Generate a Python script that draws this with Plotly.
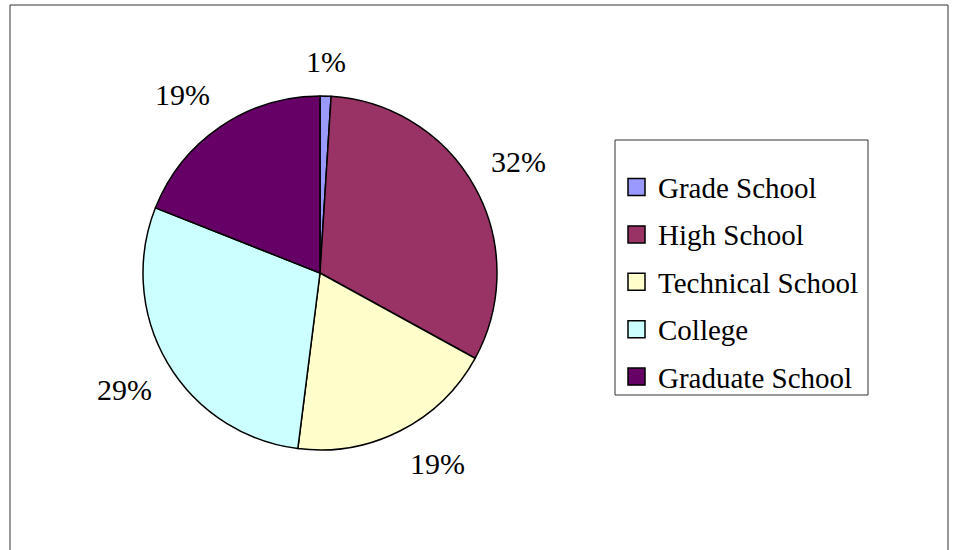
import math
import plotly.graph_objects as go

categories = ["Grade School", "High School", "Technical School", "College", "Graduate School"]
values = [1, 32, 19, 29, 19]
colors = ["#9999FF", "#993366", "#FFFFCC", "#CCFFFF", "#660066"]

W, H = 956, 550
cx, cy, r = 320, 273, 177
FONT = "Liberation Serif"


def px_x(x):
    return x / W


def px_y(y):
    return 1 - y / H


fig = go.Figure()
fig.add_trace(go.Pie(
    labels=categories, values=values, sort=False, direction="clockwise", rotation=0,
    marker=dict(colors=colors, line=dict(color="black", width=1.5)),
    textinfo="none", hoverinfo="label+percent", showlegend=False,
    domain=dict(x=[px_x(cx - r), px_x(cx + r)], y=[px_y(cy + r), px_y(cy - r)]),
))

# percentage labels placed outside the slices, computed from the data
total = sum(values)
cum = 0
annotations = []
gap = 16
for v in values:
    mid = (cum + v / 2) / total * 2 * math.pi
    cum += v
    s, c = math.sin(mid), math.cos(mid)
    lx = cx + (r + gap) * s
    ly = cy - (r + gap) * c
    xa = "left" if s > 0.3 else ("right" if s < -0.3 else "center")
    ya = "bottom" if c > 0.3 else ("top" if c < -0.3 else "middle")
    annotations.append(dict(
        x=px_x(lx), y=px_y(ly), xref="paper", yref="paper",
        text=f"{round(v / total * 100)}%", showarrow=False,
        xanchor=xa, yanchor=ya, font=dict(family=FONT, size=30, color="black"),
    ))

# outer frame and legend box (Excel style)
shapes = [
    dict(type="rect", xref="paper", yref="paper",
         x0=px_x(10), x1=px_x(948), y0=-0.05, y1=px_y(5),
         line=dict(color="#333333", width=1)),
    dict(type="rect", xref="paper", yref="paper",
         x0=px_x(615), x1=px_x(868), y0=px_y(395), y1=px_y(140),
         line=dict(color="#333333", width=1), fillcolor="white"),
]
leg_top, leg_step = 187, 47.4
for i, (name, col) in enumerate(zip(categories, colors)):
    yc = leg_top + i * leg_step
    shapes.append(dict(type="rect", xref="paper", yref="paper",
                       x0=px_x(628), x1=px_x(645), y0=px_y(yc + 8.5), y1=px_y(yc - 8.5),
                       fillcolor=col, line=dict(color="black", width=1.5)))
    annotations.append(dict(
        x=px_x(656), y=px_y(yc + 1), xref="paper", yref="paper", text=name,
        showarrow=False, xanchor="left", yanchor="middle",
        font=dict(family=FONT, size=29, color="black"),
    ))

fig.update_layout(
    width=W, height=H, margin=dict(l=0, r=0, t=0, b=0),
    paper_bgcolor="white", plot_bgcolor="white",
    annotations=annotations, shapes=shapes, showlegend=False,
)

fig.write_html("out.html", config={"displayModeBar": False},
               post_script="document.body.style.margin='0';document.body.style.overflow='hidden';")
